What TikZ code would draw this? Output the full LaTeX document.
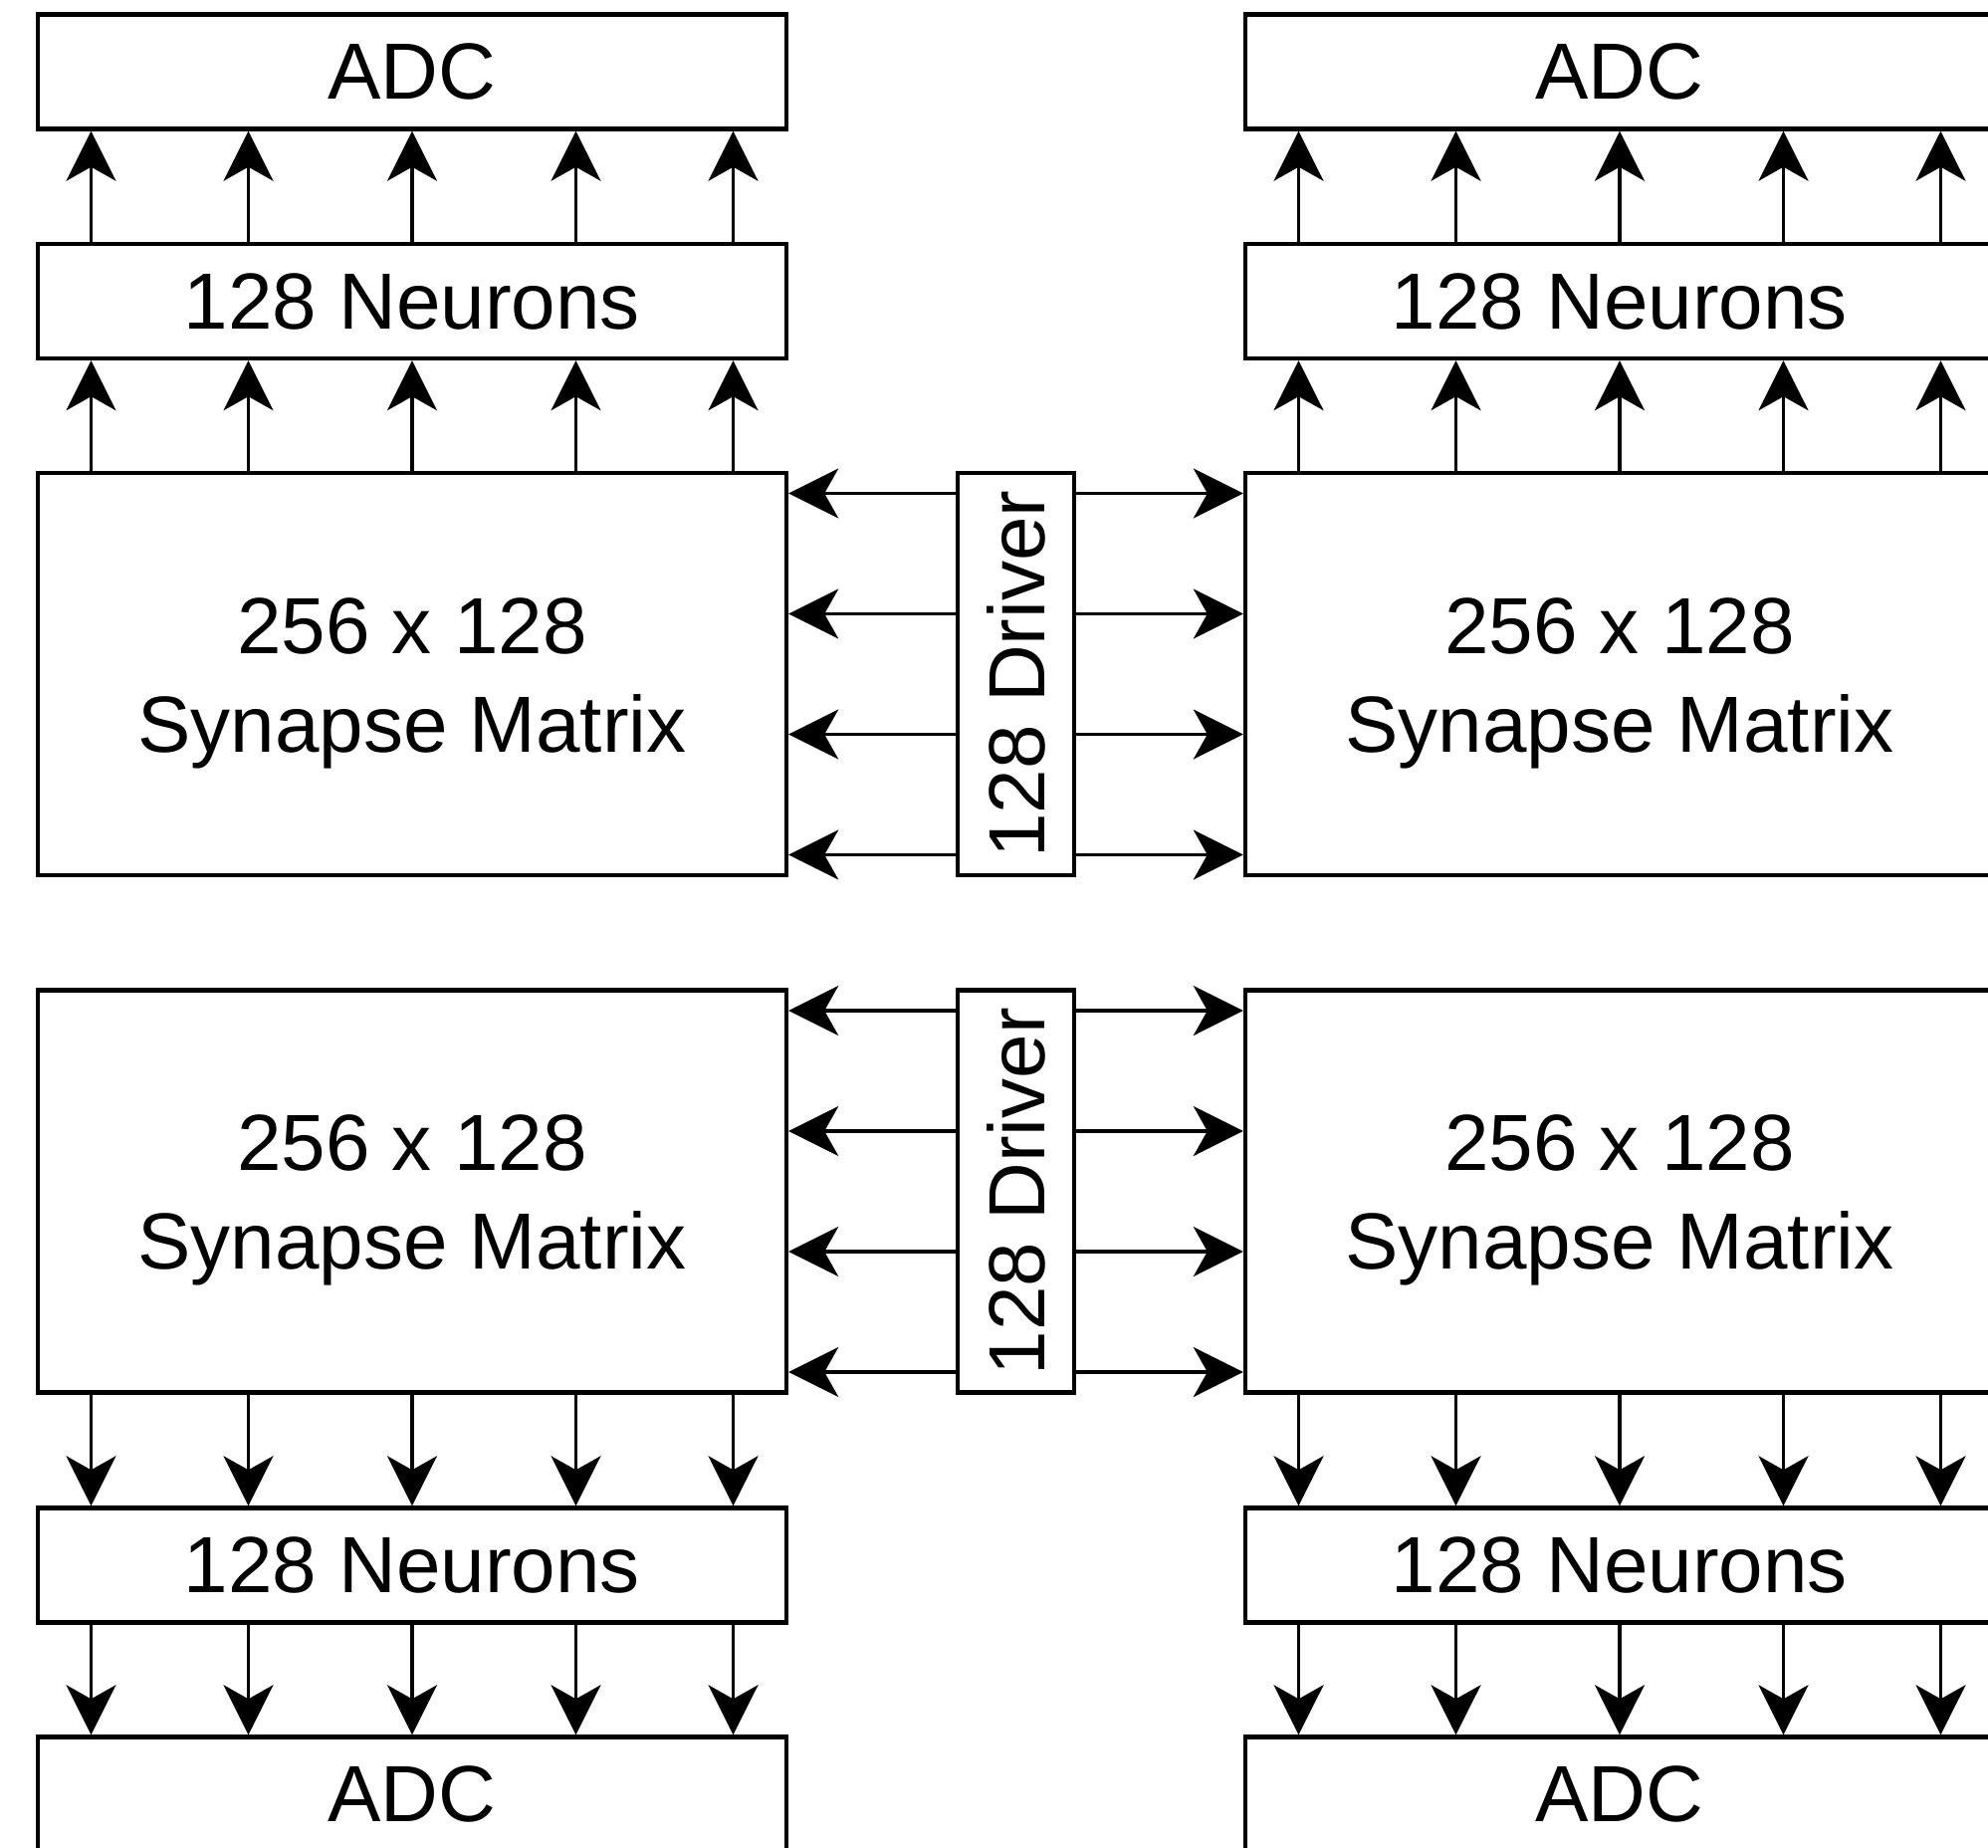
\documentclass[tikz,border=0pt]{standalone}
\usepackage{fontspec}
\setmainfont{Liberation Sans}
\usetikzlibrary{arrows.meta}
\begin{document}
\begin{tikzpicture}[x=0.5pt,y=-0.5pt,
  box/.style={draw, line width=2.2pt, inner sep=0pt, minimum width=376pt, font=\fontsize{40}{48}\selectfont, align=center},
  thinbox/.style={box, minimum height=57.5pt},
  synbox/.style={box, minimum height=202pt, label={[yshift=-4.5pt, font=\fontsize{40}{49.5}\selectfont, align=center]center:#1}},
  drvbox/.style={draw, line width=2.2pt, inner sep=0pt, minimum width=58.5pt, minimum height=202pt, font=\fontsize{40}{48}\selectfont},
  arr/.style={line width=1.7pt, -{Stealth[length=25pt,width=25pt,inset=7pt]}}]
\useasboundingbox (0,0) rectangle (1997,1856);
\clip (0,0) rectangle (1997,1856);
% top left
\node[thinbox] (adcTL) at (414,72) {ADC};
\node[thinbox] (neuTL) at (414,302.5) {128 Neurons};
\node[synbox={256 x 128\\Synapse Matrix}] (synTL) at (414,677) {};
% top right
\node[thinbox] (adcTR) at (1627,72) {ADC};
\node[thinbox] (neuTR) at (1627,302.5) {128 Neurons};
\node[synbox={256 x 128\\Synapse Matrix}] (synTR) at (1627,677) {};
% bottom left
\node[synbox={256 x 128\\Synapse Matrix}] (synBL) at (414,1196.5) {};
\node[thinbox] (neuBL) at (414,1572) {128 Neurons};
\node[thinbox] (adcBL) at (414,1802) {ADC};
% bottom right
\node[synbox={256 x 128\\Synapse Matrix}] (synBR) at (1627,1196.5) {};
\node[thinbox] (neuBR) at (1627,1572) {128 Neurons};
\node[thinbox] (adcBR) at (1627,1802) {ADC};
% drivers
\node[drvbox] (drvT) at (1020.5,677) {\rotatebox{90}{128 Driver}};
\node[drvbox] (drvB) at (1020.5,1196.5) {\rotatebox{90}{128 Driver}};
% vertical arrows
\foreach \d in {-161.25,-82.25,0,82.25,161.25} {
  \draw[arr] ([xshift=\d pt]synTL.north) -- ([xshift=\d pt]neuTL.south);
  \draw[arr] ([xshift=\d pt]neuTL.north) -- ([xshift=\d pt]adcTL.south);
  \draw[arr] ([xshift=\d pt]synTR.north) -- ([xshift=\d pt]neuTR.south);
  \draw[arr] ([xshift=\d pt]neuTR.north) -- ([xshift=\d pt]adcTR.south);
  \draw[arr] ([xshift=\d pt]synBL.south) -- ([xshift=\d pt]neuBL.north);
  \draw[arr] ([xshift=\d pt]neuBL.south) -- ([xshift=\d pt]adcBL.north);
  \draw[arr] ([xshift=\d pt]synBR.south) -- ([xshift=\d pt]neuBR.north);
  \draw[arr] ([xshift=\d pt]neuBR.south) -- ([xshift=\d pt]adcBR.north);
}
% horizontal arrows
\foreach \d in {-90.75,-30.25,30.25,90.75} {
  \draw[arr] ([yshift=\d pt]drvT.west) -- ([yshift=\d pt]synTL.east);
  \draw[arr] ([yshift=\d pt]drvT.east) -- ([yshift=\d pt]synTR.west);
  \draw[arr] ([yshift=\d pt]drvB.west) -- ([yshift=\d pt]synBL.east);
  \draw[arr] ([yshift=\d pt]drvB.east) -- ([yshift=\d pt]synBR.west);
}
\end{tikzpicture}
\end{document}
